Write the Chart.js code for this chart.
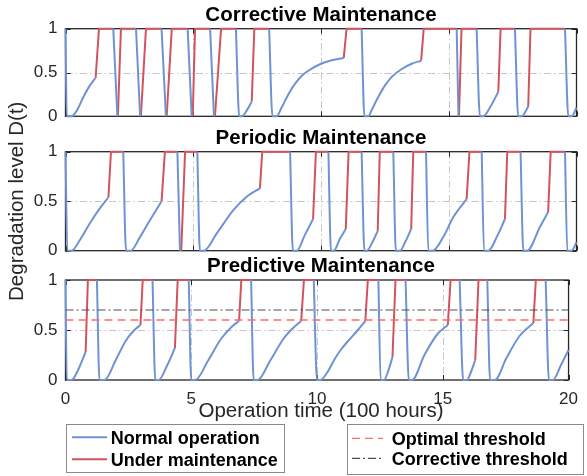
<!DOCTYPE html>
<html>
<head>
<meta charset="utf-8">
<title>Maintenance strategies</title>
<script src="https://cdn.jsdelivr.net/npm/chart.js@4.4.1/dist/chart.umd.min.js"></script>
<style>
  html, body { margin: 0; padding: 0; background: #fff; }
  #fig { position: relative; width: 587px; height: 476px; overflow: hidden;
         font-family: "Liberation Sans", Arial, Helvetica, sans-serif; }
  #fig canvas, #fig svg { position: absolute; left: 0; top: 0; }
  .lbl { position: absolute; white-space: nowrap; line-height: 1; }
  .ttl { font-size: 20.5px; font-weight: bold; color: #000; transform: translateX(-50%); }
  .axt { font-size: 20.5px; color: #262626; }
  .leg { font-size: 18px; font-weight: bold; color: #000; }
</style>
</head>
<body>
<div id="fig">
  <canvas id="corrective" width="587" height="476"></canvas>
  <canvas id="periodic" width="587" height="476"></canvas>
  <canvas id="predictive" width="587" height="476"></canvas>
  <svg id="legendArt" width="587" height="476"></svg>
</div>
<script>
// Axis ticks, titles and threshold levels
const xTicks = [0, 5, 10, 15, 20];
const yTicks = [0, 0.5, 1];
const panelTitles = ['Corrective Maintenance', 'Periodic Maintenance', 'Predictive Maintenance'];
const seriesLabels = ['Normal operation', 'Under maintenance', 'Optimal threshold', 'Corrective threshold'];
const xTitle = 'Operation time (100 hours)';
const yTitle = 'Degradation level D(t)';
const optimalThreshold = 0.6;
const correctiveThreshold = 0.7;

// Each inner array is one unbroken piece of a trace: [time, D(t)] pairs
const correctiveNormal = [
  [[0, 1], [0.05, 0], [0.24, 0], [0.45, 0.07], [0.7, 0.22], [0.95, 0.35], [1.18, 0.44]],
  [[1.87, 1], [2.03, 0]],
  [[2.76, 1], [2.92, 0]],
  [[3.76, 1], [3.93, 0]],
  [[4.78, 1], [4.94, 0]],
  [[5.66, 1], [5.81, 0]],
  [[6.67, 1], [6.8, 0], [6.9, 0], [7.1, 0.07], [7.29, 0.17]],
  [[7.97, 1], [8.1, 0], [8.26, 0], [8.46, 0.1], [8.72, 0.25], [8.98, 0.37], [9.24, 0.46], [9.5, 0.52], [10.0, 0.6], [10.42, 0.64], [10.89, 0.665]],
  [[11.59, 1], [11.7, 0], [11.85, 0], [11.98, 0.07], [12.24, 0.22], [12.5, 0.35], [12.77, 0.45], [13.16, 0.54], [13.55, 0.6], [13.92, 0.635]],
  [[15.31, 1], [15.38, 0]],
  [[16.09, 1], [16.22, 0], [16.35, 0], [16.65, 0.12], [16.94, 0.28]],
  [[17.59, 1], [17.72, 0], [17.85, 0], [18.11, 0.11]],
  [[19.55, 1], [19.68, 0], [19.81, 0], [20, 0.1]]
];
const correctiveMaint = [
  [[1.18, 0.44], [1.31, 1], [1.87, 1]],
  [[2.05, 0], [2.17, 1], [2.76, 1]],
  [[2.95, 0], [3.15, 1], [3.76, 1]],
  [[3.96, 0], [4.16, 1], [4.78, 1]],
  [[4.98, 0], [5.07, 1], [5.66, 1]],
  [[5.85, 0], [6.09, 1], [6.67, 1]],
  [[7.29, 0.17], [7.39, 1], [7.97, 1]],
  [[10.89, 0.665], [11.0, 1], [11.59, 1]],
  [[13.92, 0.635], [14.02, 1], [15.31, 1]],
  [[15.4, 0], [15.5, 1], [16.09, 1]],
  [[16.94, 0.28], [17.03, 1], [17.59, 1]],
  [[18.11, 0.11], [18.2, 1], [19.55, 1]]
];

const periodicNormal = [
  [[0, 1], [0.07, 0], [0.24, 0], [0.57, 0.11], [0.96, 0.28], [1.35, 0.43], [1.68, 0.54]],
  [[2.26, 1], [2.37, 0], [2.55, 0], [2.92, 0.14], [3.31, 0.31], [3.76, 0.5]],
  [[4.38, 1], [4.48, 0]],
  [[5.16, 1], [5.26, 0], [5.42, 0], [5.92, 0.175], [6.57, 0.41], [7.09, 0.545], [7.61, 0.63]],
  [[8.79, 1], [8.9, 0], [9.05, 0], [9.37, 0.16], [9.69, 0.32]],
  [[10.29, 1], [10.39, 0], [10.5, 0], [10.74, 0.12], [10.97, 0.22]],
  [[11.59, 1], [11.7, 0], [11.8, 0], [12.0, 0.08], [12.22, 0.2]],
  [[12.83, 1], [12.93, 0], [13.09, 0], [13.3, 0.09], [13.53, 0.22]],
  [[14.11, 1], [14.2, 0], [14.37, 0], [14.79, 0.14], [15.18, 0.34], [15.7, 0.52]],
  [[16.29, 1], [16.38, 0], [16.55, 0], [16.9, 0.15], [17.2, 0.32]],
  [[17.81, 1], [17.92, 0], [18.07, 0], [18.57, 0.24], [18.89, 0.39]],
  [[19.55, 1], [19.64, 0], [19.81, 0], [20, 0.085]]
];
const periodicMaint = [
  [[1.68, 0.54], [1.78, 1], [2.26, 1]],
  [[3.76, 0.5], [3.89, 1], [4.38, 1]],
  [[4.53, 0], [4.68, 1], [5.16, 1]],
  [[7.61, 0.63], [7.7, 1], [8.79, 1]],
  [[9.69, 0.32], [9.8, 1], [10.29, 1]],
  [[10.97, 0.22], [11.08, 1], [11.59, 1]],
  [[12.22, 0.2], [12.3, 1], [12.83, 1]],
  [[13.53, 0.22], [13.61, 1], [14.11, 1]],
  [[15.7, 0.52], [15.81, 1], [16.29, 1]],
  [[17.2, 0.32], [17.29, 1], [17.81, 1]],
  [[18.89, 0.39], [18.99, 1], [19.55, 1]]
];

const predictiveNormal = [
  [[0, 1], [0.05, 0], [0.24, 0], [0.5, 0.1], [0.8, 0.28]],
  [[1.25, 1], [1.35, 0], [1.55, 0], [2.0, 0.2], [2.39, 0.39], [2.7, 0.49], [2.98, 0.55]],
  [[3.46, 1], [3.57, 0], [3.7, 0], [4.05, 0.15], [4.35, 0.32]],
  [[4.9, 1], [5.0, 0], [5.16, 0], [5.66, 0.19], [6.18, 0.41], [6.6, 0.53], [6.9, 0.59]],
  [[7.38, 1], [7.48, 0], [7.64, 0], [8.13, 0.19], [8.66, 0.41], [9.05, 0.52], [9.37, 0.59]],
  [[9.87, 1], [10.0, 0], [10.13, 0], [10.42, 0.08], [10.68, 0.2], [10.94, 0.3], [11.2, 0.38], [11.59, 0.49], [11.92, 0.59]],
  [[12.44, 1], [12.53, 0], [12.66, 0], [12.83, 0.09], [13.0, 0.23]],
  [[13.52, 1], [13.65, 0], [13.78, 0], [14.27, 0.25], [14.79, 0.46], [15.2, 0.55]],
  [[15.67, 1], [15.81, 0], [15.96, 0], [16.12, 0.08], [16.29, 0.2]],
  [[16.77, 1], [16.88, 0], [17.07, 0], [17.53, 0.22], [18.05, 0.44], [18.6, 0.57]],
  [[19.09, 1], [19.22, 0], [19.38, 0], [19.7, 0.15], [20, 0.3]]
];
const predictiveMaint = [
  [[0.8, 0.28], [0.89, 1], [1.25, 1]],
  [[2.98, 0.55], [3.07, 1], [3.46, 1]],
  [[4.35, 0.32], [4.46, 1], [4.9, 1]],
  [[6.9, 0.59], [6.99, 1], [7.38, 1]],
  [[9.37, 0.59], [9.48, 1], [9.87, 1]],
  [[11.92, 0.59], [12.02, 1], [12.44, 1]],
  [[13.0, 0.23], [13.12, 1], [13.52, 1]],
  [[15.2, 0.55], [15.31, 1], [15.67, 1]],
  [[16.29, 0.2], [16.42, 1], [16.77, 1]],
  [[18.6, 0.57], [18.7, 1], [19.09, 1]]
];

// Layout of the figure (pixels)
const FIG_W = 587, FIG_H = 476;
const PLOT_L = 65.5, PLOT_R = 576.5;
const XLABEL_H = 30;
const EM_BASE = 0.8465; // baseline offset of Liberation Sans with line-height 1

const styles = {
  normal: { color: '#6f93d2', width: 2 },
  maint: { color: '#d2535d', width: 2 },
  optimal: { color: '#ff6b6b', width: 1.3, dash: [8, 5] },
  corrective: { color: '#505050', width: 1.2, dash: [8, 3, 2, 3] }
};

const panels = [
  { canvas: 'corrective', normal: correctiveNormal, maint: correctiveMaint, top: 28.7, bottom: 116.3 },
  { canvas: 'periodic', normal: periodicNormal, maint: periodicMaint, top: 151.7, bottom: 250.7 },
  { canvas: 'predictive', normal: predictiveNormal, maint: predictiveMaint, top: 280, bottom: 380, thresholds: true, xLabels: true }
];

const tickFont = { family: "'Liberation Sans', Arial, sans-serif", size: 17 };

// Turn pieces into one point list, with a null between pieces so the line breaks
function toPoints(pieces) {
  const pts = [];
  pieces.forEach((piece, i) => {
    if (i > 0) pts.push({ x: piece[0][0], y: null });
    piece.forEach(([x, y]) => pts.push({ x, y }));
  });
  return pts;
}

function levelLine(label, level, st) {
  return {
    label,
    data: [{ x: xTicks[0], y: level }, { x: xTicks[xTicks.length - 1], y: level }],
    borderColor: st.color, borderWidth: st.width, borderDash: st.dash,
    pointRadius: 0, clip: 2
  };
}

// Grid, box and inward tick marks, MATLAB style
const axesFrame = {
  id: 'axesFrame',
  beforeDatasetsDraw(chart) {
    const { ctx, chartArea: a, scales: { x, y } } = chart;
    ctx.save();
    ctx.lineWidth = 1;
    ctx.strokeStyle = '#c6c6c6';
    ctx.setLineDash([7, 3, 1.5, 3]);
    ctx.beginPath();
    xTicks.forEach(v => {
      if (v <= x.min || v >= x.max) return;
      const p = Math.round(x.getPixelForValue(v)) + 0.5;
      ctx.moveTo(p, a.top); ctx.lineTo(p, a.bottom);
    });
    yTicks.forEach(v => {
      if (v <= y.min || v >= y.max) return;
      const p = Math.round(y.getPixelForValue(v)) + 0.5;
      ctx.moveTo(a.left, p); ctx.lineTo(a.right, p);
    });
    ctx.stroke();

    ctx.setLineDash([]);
    ctx.strokeStyle = '#262626';
    ctx.lineWidth = 1;
    const t = 5;
    ctx.beginPath();
    xTicks.forEach(v => {
      const p = Math.round(x.getPixelForValue(v)) + 0.5;
      ctx.moveTo(p, a.bottom); ctx.lineTo(p, a.bottom - t);
      ctx.moveTo(p, a.top); ctx.lineTo(p, a.top + t);
    });
    yTicks.forEach(v => {
      const p = Math.round(y.getPixelForValue(v)) + 0.5;
      ctx.moveTo(a.left, p); ctx.lineTo(a.left + t, p);
      ctx.moveTo(a.right, p); ctx.lineTo(a.right - t, p);
    });
    ctx.stroke();
    ctx.lineWidth = 1.3;
    ctx.strokeRect(a.left, a.top, a.right - a.left, a.bottom - a.top);
    ctx.restore();
  }
};

const plainLabel = v => String(v);

panels.forEach(p => {
  const datasets = [];
  if (p.thresholds) {
    datasets.push(levelLine(seriesLabels[2], optimalThreshold, styles.optimal));
    datasets.push(levelLine(seriesLabels[3], correctiveThreshold, styles.corrective));
  }
  datasets.push({
    label: seriesLabels[0], data: toPoints(p.normal),
    borderColor: styles.normal.color, borderWidth: styles.normal.width,
    cubicInterpolationMode: 'monotone', pointRadius: 0, clip: 4
  });
  datasets.push({
    label: seriesLabels[1], data: toPoints(p.maint),
    borderColor: styles.maint.color, borderWidth: styles.maint.width,
    tension: 0, pointRadius: 0, clip: 4
  });

  const xH = p.xLabels ? XLABEL_H : 0;
  new Chart(document.getElementById(p.canvas), {
    type: 'line',
    data: { datasets },
    options: {
      responsive: false, animation: false, devicePixelRatio: 1, events: [],
      layout: { padding: { top: p.top, bottom: FIG_H - p.bottom - xH, left: 0, right: FIG_W - PLOT_R } },
      plugins: { legend: { display: false }, tooltip: { enabled: false } },
      scales: {
        x: {
          type: 'linear', min: xTicks[0], max: xTicks[xTicks.length - 1],
          afterBuildTicks: s => { s.ticks = xTicks.map(v => ({ value: v })); },
          afterFit: s => { s.height = xH; },
          grid: { display: false, drawTicks: false }, border: { display: false },
          ticks: { display: !!p.xLabels, padding: 9, font: tickFont, color: '#262626',
                   maxRotation: 0, autoSkip: false, callback: plainLabel }
        },
        y: {
          type: 'linear', min: yTicks[0], max: yTicks[yTicks.length - 1],
          afterBuildTicks: s => { s.ticks = yTicks.map(v => ({ value: v })); },
          afterFit: s => { s.width = PLOT_L; },
          grid: { display: false, drawTicks: false }, border: { display: false },
          ticks: { padding: 8, font: tickFont, color: '#262626', callback: plainLabel }
        }
      }
    },
    plugins: [axesFrame]
  });
});

// Titles and axis labels
const fig = document.getElementById('fig');
function addText(text, cls, left, top, extra) {
  const d = document.createElement('div');
  d.className = 'lbl ' + cls;
  d.textContent = text;
  d.style.left = left + 'px';
  d.style.top = top + 'px';
  if (extra) Object.assign(d.style, extra);
  fig.appendChild(d);
  return d;
}
const plotMid = (PLOT_L + PLOT_R) / 2;
panels.forEach((p, i) => {
  addText(panelTitles[i], 'ttl', plotMid, p.top - 7.3 - 20.5 * EM_BASE);
});
addText(xTitle, 'axt', plotMid, 417.3 - 20.5 * EM_BASE, { transform: 'translateX(-50%)' });
addText(yTitle, 'axt', 15.6 - 150, 201 - 10.25, { width: '300px', textAlign: 'center', transform: 'rotate(-90deg)' });

// Legends: two framed boxes under the bottom panel
const legendBoxes = [
  { x: 66, y: 424, w: 219, h: 49, lineX: [72, 107], textX: 110.7, rows: [437.3, 459.3], items: ['normal', 'maint'], labels: [0, 1] },
  { x: 347, y: 424, w: 237, h: 51, lineX: [352, 383], textX: 391.7, rows: [438.3, 458.3], items: ['optimal', 'corrective'], labels: [2, 3] }
];
const svg = document.getElementById('legendArt');
const NS = 'http://www.w3.org/2000/svg';
function svgEl(tag, attrs) {
  const e = document.createElementNS(NS, tag);
  Object.entries(attrs).forEach(([k, v]) => e.setAttribute(k, v));
  svg.appendChild(e);
  return e;
}
legendBoxes.forEach(b => {
  svgEl('rect', { x: b.x + 0.5, y: b.y + 0.5, width: b.w - 1, height: b.h - 1, fill: '#fff', stroke: '#8a8a8a', 'stroke-width': 1 });
  b.items.forEach((key, j) => {
    const st = styles[key];
    svgEl('line', {
      x1: b.lineX[0], x2: b.lineX[1], y1: b.rows[j], y2: b.rows[j],
      stroke: st.color, 'stroke-width': st.width,
      'stroke-dasharray': st.dash ? st.dash.join(' ') : 'none'
    });
    addText(seriesLabels[b.labels[j]], 'leg', b.textX, b.rows[j] + 6.7 - 18 * EM_BASE);
  });
});
</script>
</body>
</html>
